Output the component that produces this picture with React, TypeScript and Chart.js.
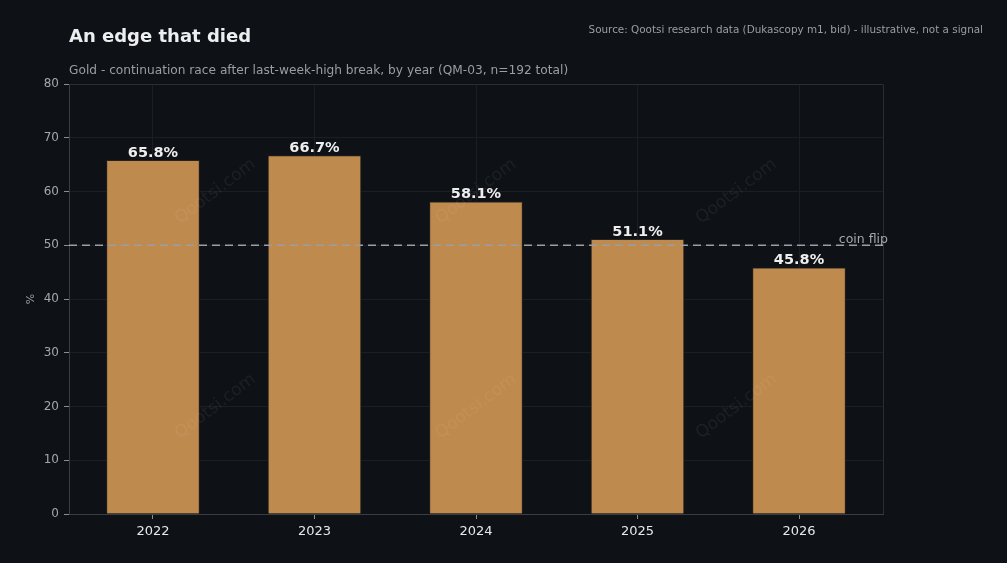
import React, { useEffect, useRef } from "react";
import { Chart, registerables } from "chart.js";

Chart.register(...registerables);

const years = ["2022", "2023", "2024", "2025", "2026"];
const continuationPct = [65.8, 66.7, 58.1, 51.1, 45.8];
const coinFlip = 50;
const yTicks = [0, 10, 20, 30, 40, 50, 60, 70, 80];

const TITLE = "An edge that died";
const SUBTITLE = "Gold - continuation race after last-week-high break, by year (QM-03, n=192 total)";
const SOURCE = "Source: Qootsi research data (Dukascopy m1, bid) - illustrative, not a signal";
const WATERMARK = "Qootsi.com";

const BG = "#0e1116";
const FONT = "'DejaVu Sans', sans-serif";

const overlayPlugin = {
  id: "overlay",
  beforeDraw(chart: any) {
    const { ctx, width, height } = chart;
    ctx.save();
    ctx.fillStyle = BG;
    ctx.fillRect(0, 0, width, height);
    ctx.restore();
  },
  beforeDatasetsDraw(chart: any) {
    const { ctx, chartArea } = chart;
    ctx.save();
    ctx.strokeStyle = "#2a2d33";
    ctx.lineWidth = 1;
    ctx.beginPath();
    ctx.moveTo(chartArea.left, chartArea.top + 0.5);
    ctx.lineTo(chartArea.right + 0.5, chartArea.top + 0.5);
    ctx.lineTo(chartArea.right + 0.5, chartArea.bottom);
    ctx.stroke();
    ctx.restore();
  },
  afterDatasetsDraw(chart: any) {
    const { ctx, chartArea, scales } = chart;
    const ys = scales.y;
    ctx.save();
    const yLine = ys.getPixelForValue(coinFlip);
    ctx.strokeStyle = "#9a9ea5";
    ctx.lineWidth = 1.5;
    ctx.setLineDash([8, 5]);
    ctx.beginPath();
    ctx.moveTo(chartArea.left, yLine);
    ctx.lineTo(chartArea.right, yLine);
    ctx.stroke();
    ctx.setLineDash([]);
    ctx.fillStyle = "#a3a7ad";
    ctx.font = `12.5px ${FONT}`;
    ctx.textAlign = "right";
    ctx.textBaseline = "bottom";
    ctx.fillText("coin flip", chartArea.right + 5, yLine + 1);

    const meta = chart.getDatasetMeta(0);
    ctx.fillStyle = "#eeeeee";
    ctx.font = `bold 14.5px ${FONT}`;
    ctx.textAlign = "center";
    ctx.textBaseline = "bottom";
    meta.data.forEach((bar: any, i: number) => {
      ctx.fillText(continuationPct[i].toFixed(1) + "%", bar.x, bar.y);
    });

    ctx.fillStyle = "rgba(255,255,255,0.06)";
    ctx.font = `17px ${FONT}`;
    ctx.textAlign = "center";
    ctx.textBaseline = "middle";
    const w = chartArea.right - chartArea.left;
    const h = chartArea.bottom - chartArea.top;
    [0.18, 0.5, 0.82].forEach((fx) => {
      [0.25, 0.75].forEach((fy) => {
        ctx.save();
        ctx.translate(chartArea.left + fx * w, chartArea.top + fy * h);
        ctx.rotate(-37 * Math.PI / 180);
        ctx.fillText(WATERMARK, 0, 0);
        ctx.restore();
      });
    });
    ctx.restore();
  },
  afterDraw(chart: any) {
    const { ctx, chartArea, width } = chart;
    ctx.save();
    ctx.textBaseline = "alphabetic";
    ctx.textAlign = "left";
    ctx.fillStyle = "#eceef0";
    ctx.font = `bold 18px ${FONT}`;
    ctx.fillText(TITLE, chartArea.left, 42);
    ctx.fillStyle = "#9a9ea5";
    ctx.font = `12.2px ${FONT}`;
    ctx.fillText(SUBTITLE, chartArea.left, 74);
    ctx.font = `10.4px ${FONT}`;
    ctx.textAlign = "right";
    ctx.fillText(SOURCE, width - 24, 33);
    ctx.fillStyle = "#9a9ea5";
    ctx.font = `11px ${FONT}`;
    ctx.textAlign = "center";
    ctx.textBaseline = "middle";
    ctx.translate(31, (chartArea.top + chartArea.bottom) / 2);
    ctx.rotate(-Math.PI / 2);
    ctx.fillText("%", 0, 0);
    ctx.restore();
  },
};

export default function App() {
  const ref = useRef<HTMLCanvasElement | null>(null);
  useEffect(() => {
    document.body.style.margin = "0";
    document.body.style.background = BG;
    const chart = new Chart(ref.current as HTMLCanvasElement, {
      type: "bar",
      data: {
        datasets: [
          {
            data: continuationPct.map((v, i) => ({ x: i, y: v })),
            backgroundColor: "#bf8a4e",
            borderColor: "#262220",
            borderWidth: 1,
            barThickness: 93,
          },
        ],
      },
      options: {
        animation: false,
        responsive: false,
        devicePixelRatio: 1,
        layout: { padding: { top: 84, right: 124, left: 0, bottom: 0 } },
        plugins: {
          legend: { display: false },
          tooltip: { enabled: false },
          title: { display: false },
        },
        scales: {
          x: {
            type: "linear",
            min: -0.52,
            max: 4.52,
            offset: false,
            afterBuildTicks: (s: any) => {
              s.ticks = years.map((_, i) => ({ value: i }));
            },
            grid: {
              offset: false,
              color: "#1b1e24",
              tickColor: "#8a8e94",
              tickLength: 5,
            },
            border: { color: "#3a3d44" },
            ticks: {
              color: "#e6e8ea",
              font: { family: FONT, size: 13 },
              padding: 5,
              callback: (v: any) => years[Math.round(Number(v))] ?? "",
            },
            afterFit: (s: any) => {
              s.height = 49;
            },
          },
          y: {
            min: 0,
            max: 80,
            afterBuildTicks: (s: any) => {
              s.ticks = yTicks.map((v) => ({ value: v }));
            },
            grid: {
              color: "#1b1e24",
              tickColor: "#8a8e94",
              tickLength: 5,
            },
            border: { color: "#3a3d44" },
            ticks: {
              color: "#a3a7ad",
              font: { family: FONT, size: 12 },
              padding: 5,
            },
            afterFit: (s: any) => {
              s.width = 69;
            },
          },
        },
      },
      plugins: [overlayPlugin],
    });
    return () => chart.destroy();
  }, []);
  return (
    <div style={{ width: 1007, height: 563, background: BG }}>
      <canvas ref={ref} width={1007} height={563} style={{ display: "block" }} />
    </div>
  );
}
